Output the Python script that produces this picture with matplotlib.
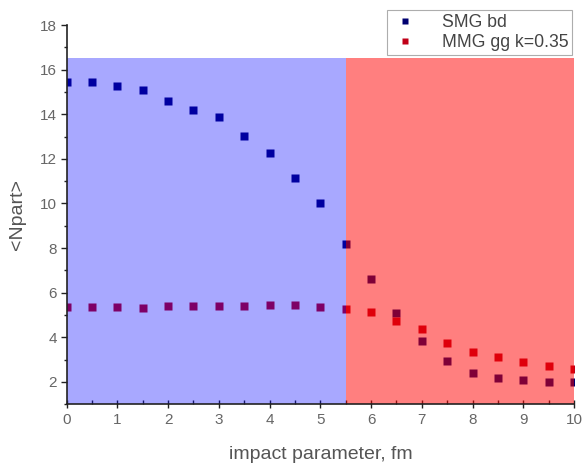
import numpy as np
import matplotlib
matplotlib.use('Agg')
import matplotlib.pyplot as plt
from matplotlib.ticker import MultipleLocator
from matplotlib.lines import Line2D

plt.rcParams['font.family'] = ['Liberation Sans', 'DejaVu Sans']

# 数据
b = np.arange(0, 10.01, 0.5)
smg_bd = [15.44, 15.44, 15.26, 15.10, 14.58, 14.21, 13.86, 13.01, 12.24, 11.12,
          10.03, 8.17, 6.62, 5.08, 3.85, 2.92, 2.40, 2.18, 2.07, 2.00, 2.00]
mmg_gg = [5.37, 5.38, 5.35, 5.31, 5.40, 5.40, 5.40, 5.41, 5.43, 5.43,
          5.35, 5.25, 5.14, 4.75, 4.37, 3.74, 3.34, 3.10, 2.88, 2.71, 2.59]
labels = ['SMG bd', 'MMG gg k=0.35']
b_split = 5.5
band_top = 16.5

fig = plt.figure(figsize=(5.84, 4.63), dpi=100)
ax = fig.add_axes([0.114, 0.127, 0.869, 0.819])

c_blue = '#000070'
c_red = '#c00018'
ax.plot(b, smg_bd, 's', color=c_blue, ms=5.5, mec='none', zorder=1)
ax.plot(b, mmg_gg, 's', color=c_red, ms=5.5, mec='none', zorder=1)

ax.set_xlim(0, 10)
ax.set_ylim(1, 18)

# 背景色块（叠加在点上，半透明）
ytop = (band_top - 1) / (18 - 1)
ax.axvspan(0, b_split, ymin=0, ymax=ytop, color='#0000ff', alpha=0.34, lw=0, zorder=2)
ax.axvspan(b_split, 10, ymin=0, ymax=ytop, color='#ff0000', alpha=0.5, lw=0, zorder=2)

for s in ['top', 'right']:
    ax.spines[s].set_visible(False)
for s in ['left', 'bottom']:
    ax.spines[s].set_color('#222222')
    ax.spines[s].set_linewidth(1.2)
    ax.spines[s].set_zorder(3)

ax.xaxis.set_major_locator(MultipleLocator(1))
ax.xaxis.set_minor_locator(MultipleLocator(0.5))
ax.yaxis.set_minor_locator(MultipleLocator(1))
ax.set_yticks(np.arange(2, 18.1, 2))
ax.tick_params(axis='x', which='major', direction='inout', length=6, width=1, colors='#222222', labelcolor='#666666', labelsize=11, pad=3)
ax.tick_params(axis='x', which='minor', direction='in', length=3, width=1, colors='#222222')
ax.tick_params(axis='y', which='major', direction='out', length=4, width=1, colors='#222222', labelcolor='#666666', labelsize=11, pad=3)
ax.tick_params(axis='y', which='minor', direction='out', length=2.5, width=1, colors='#222222')

ax.set_xlabel('impact parameter, fm', fontsize=14, color='#555555', labelpad=14)
ax.set_ylabel('<Npart>', fontsize=14, color='#555555', labelpad=10)

handles = [Line2D([], [], ls='none', marker='s', color=c_blue, ms=5, mec='none'),
           Line2D([], [], ls='none', marker='s', color=c_red, ms=5, mec='none')]
leg = fig.legend(handles, labels, loc='upper right', bbox_to_anchor=(0.98, 0.978),
                 borderaxespad=0, fontsize=12.7, frameon=True, fancybox=False,
                 edgecolor='#999999', borderpad=0.2, handletextpad=1.3,
                 labelspacing=0.2, handlelength=1.6)
leg.get_frame().set_linewidth(0.8)
for t in leg.get_texts():
    t.set_color('#444444')

fig.savefig('out.png', dpi=100)
